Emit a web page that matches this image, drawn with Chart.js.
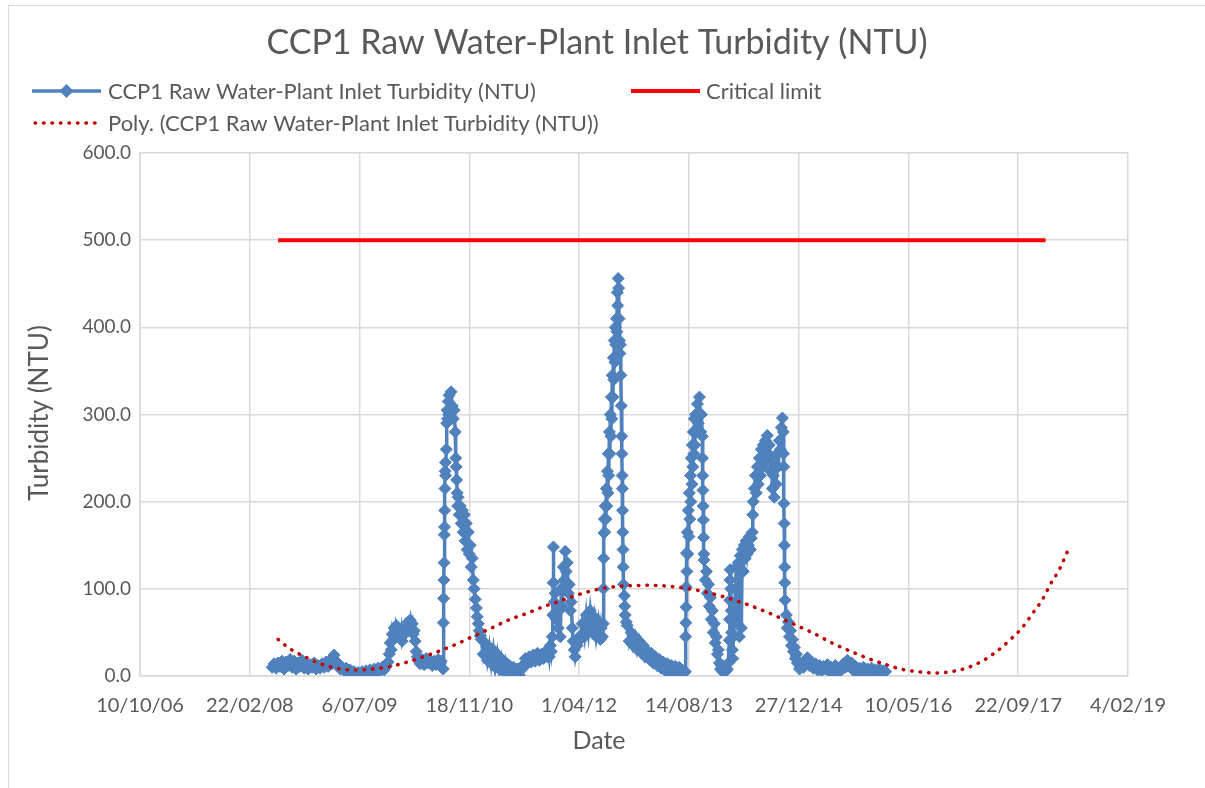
<!DOCTYPE html>
<html>
<head>
<meta charset="utf-8">
<title>CCP1 Raw Water-Plant Inlet Turbidity (NTU)</title>
<script src="https://cdn.jsdelivr.net/npm/chart.js@4.4.1/dist/chart.umd.min.js"></script>
<style>
  html, body { margin: 0; padding: 0; background: #fff; overflow: hidden; }
  #wrap { position: relative; width: 1205px; height: 788px; }
</style>
</head>
<body>
<div id="wrap"><canvas id="turbChart" width="1205" height="788"></canvas></div>
<script>
// dates are Excel serial day numbers (39000 = 10/10/2006)
const rawDates = [
  39602, 39611, 39620, 39629, 39638, 39647, 39656, 39665, 39675, 39684, 39693, 39702,
  39711, 39720, 39729, 39738, 39748, 39757, 39766, 39775, 39784, 39793, 39802, 39811,
  39820, 39830, 39839, 39848, 39857, 39866, 39875, 39884, 39893, 39902, 39912,
  39921, 39930, 39939, 39948, 39957, 39966, 39975, 39985, 39994, 40003, 40012, 40021,
  40030, 40039, 40048, 40057, 40067, 40076, 40085, 40094, 40103, 40112, 40121, 40130,
  40135, 40140, 40144, 40149, 40153, 40158, 40162, 40167, 40176, 40185, 40190, 40194, 40203,
  40208, 40212, 40222, 40226, 40231, 40235, 40240, 40244, 40249, 40253, 40258, 40263,
  40267, 40276, 40285, 40294, 40304, 40313, 40322, 40331, 40340, 40349, 40358, 40367, 40372, 40377,
  40381, 40382, 40383, 40384, 40385, 40386, 40387, 40388, 40389, 40390, 40391, 40392,
  40395, 40397, 40399, 40401, 40404, 40406, 40408, 40413, 40417, 40422, 40427, 40431, 40436,
  40438, 40440, 40442, 40445, 40447, 40449, 40454, 40459, 40463, 40468, 40472, 40477, 40481,
  40486, 40490, 40495, 40500, 40504, 40509, 40513, 40518, 40522, 40527, 40532, 40536, 40541, 40545, 40550,
  40554, 40563, 40572, 40582, 40591, 40600, 40609, 40618, 40627, 40636, 40645, 40655,
  40664, 40673, 40682, 40691, 40700, 40709, 40718, 40728, 40737, 40746, 40755,
  40764, 40773, 40782, 40791, 40800, 40810, 40819, 40828, 40837, 40846, 40855,
  40860, 40864, 40869, 40873, 40878, 40880, 40882, 40883, 40884, 40887, 40891,
  40896, 40900, 40905, 40909, 40914, 40919, 40923, 40928, 40932, 40937, 40941,
  40946, 40951, 40955, 40960, 40964, 40969, 40973, 40978, 40982, 40991, 41000,
  41005, 41014, 41024, 41033, 41042, 41051, 41060, 41069, 41078, 41088, 41097, 41101, 41106,
  41110, 41111, 41112, 41113, 41115, 41117, 41119, 41122, 41124, 41126, 41129, 41131,
  41133, 41135, 41138, 41140, 41142, 41145, 41147, 41149, 41151, 41154, 41156, 41158,
  41160, 41163, 41165, 41167, 41170, 41172, 41174, 41176, 41178, 41180, 41182, 41184,
  41186, 41188, 41190, 41192, 41194, 41195,
  41196, 41197, 41198, 41199, 41200, 41201, 41202, 41206, 41208, 41210, 41215, 41219,
  41228, 41237, 41246, 41256, 41265, 41274, 41283, 41292, 41301, 41310, 41320, 41329, 41338, 41347,
  41356, 41365, 41374, 41383, 41393, 41402, 41411, 41420, 41429, 41438, 41447, 41456, 41465, 41474,
  41484, 41485, 41486, 41487, 41488, 41489, 41491, 41493, 41495, 41497, 41500, 41502, 41504, 41507,
  41509, 41511, 41514, 41516, 41518, 41520, 41523, 41525, 41527, 41530, 41534, 41539, 41543, 41548,
  41552, 41554, 41557, 41561,
  41562, 41563, 41564, 41565, 41566, 41567, 41568, 41569, 41575, 41580, 41584, 41589, 41593, 41598, 41602,
  41607, 41611, 41616, 41620, 41625, 41630, 41634, 41639, 41644, 41648, 41653, 41657, 41662, 41666, 41671,
  41675, 41680, 41684, 41685, 41686, 41687, 41688, 41691, 41693, 41695, 41698, 41700, 41702, 41707,
  41712, 41716, 41721, 41725, 41730, 41734, 41739, 41743, 41748, 41752, 41757, 41761, 41766, 41771,
  41775, 41780, 41784, 41789, 41791, 41793, 41798, 41803, 41807, 41812, 41816, 41821, 41826, 41830,
  41835, 41839, 41844, 41848, 41853, 41857, 41862, 41866, 41871, 41876, 41880, 41885, 41889, 41894,
  41898, 41903, 41907, 41912, 41917, 41921, 41926, 41930, 41931, 41932, 41933, 41934, 41935, 41936,
  41937, 41938, 41944, 41948, 41953, 41958, 41963, 41967, 41972, 41976, 41981, 41985, 41990, 41994,
  42004, 42013, 42022, 42031, 42040, 42049, 42058, 42067, 42077, 42086, 42095, 42104, 42113, 42122, 42131,
  42140, 42149, 42158, 42167, 42177, 42186, 42195, 42204, 42213, 42222, 42231, 42241, 42250, 42259, 42268,
  42277, 42286, 42295, 42305, 42314, 42323, 42332, 42341, 42350, 42359, 42368, 42377, 42386, 42396
];
const rawNTU = [
  10, 14, 9, 15, 11, 17, 8, 16, 12, 19, 10, 17,
  8, 15, 11, 18, 9, 14, 8, 13, 10, 15, 8, 12,
  9, 14, 10, 16, 11, 18, 14, 24, 17, 12, 8,
  10, 6, 9, 4, 7, 3, 5, 2, 4, 1, 5, 2,
  6, 3, 7, 4, 8, 5, 9, 6, 10, 7, 11, 16,
  25, 38, 30, 48, 42, 55, 45, 58, 50, 44, 52, 40, 48,
  56, 50, 62, 58, 64, 55, 60, 48, 52, 40, 28, 22,
  18, 14, 19, 13, 20, 15, 18, 12, 17, 13, 19, 14, 17, 9,
  8, 61, 89, 110, 130, 162, 171, 190, 215, 235, 245, 230,
  260, 290, 305, 295, 315, 300, 322, 305, 326, 310, 295, 305, 280,
  250, 240, 225, 210, 195, 205, 185, 195, 175, 190, 165, 185, 155,
  175, 145, 165, 140, 150, 125, 135, 110, 100, 88, 78, 68, 60, 52, 46,
  42, 25, 38, 18, 33, 14, 30, 10, 25, 8, 20, 5,
  16, 4, 12, 3, 10, 2, 8, 1, 7, 13, 20,
  14, 22, 16, 24, 17, 26, 18, 25, 20, 28, 22,
  30, 22, 35, 28, 45, 70, 107, 148, 107, 85, 95,
  65, 80, 55, 75, 45, 100, 80, 125, 110, 143, 120,
  130, 95, 105, 75, 85, 55, 40, 30, 22, 35, 45,
  42, 60, 45, 70, 50, 75, 55, 68, 45, 62, 42, 55, 45,
  60, 100, 135, 164, 180, 165, 195, 180, 215, 195, 235, 210,
  255, 230, 280, 255, 300, 275, 320, 295, 345, 320, 365, 340,
  385, 360, 400, 380, 410, 395, 440, 425, 456, 445, 410, 385,
  370, 380, 345, 310, 275, 255,
  230, 215, 190, 165, 145, 125, 105, 92, 80, 70, 62, 58,
  40, 50, 35, 45, 30, 40, 27, 35, 22, 29, 19, 26, 15, 22,
  12, 19, 9, 16, 6, 14, 5, 12, 4, 11, 3, 10, 3, 6,
  5, 45, 61, 79, 102, 141, 120, 165, 140, 190, 160, 210, 180, 230,
  200, 250, 220, 265, 240, 280, 255, 295, 265, 300, 280, 312, 290, 320,
  300, 280, 300, 275,
  250, 230, 213, 195, 179, 159, 140, 133, 110, 120, 95, 105, 80, 90, 65,
  75, 50, 60, 38, 45, 25, 30, 15, 8, 12, 5, 10, 4, 9, 6,
  8, 15, 41, 65, 87, 110, 122, 100, 75, 50, 30, 20, 45, 70,
  100, 125, 60, 130, 45, 138, 55, 145, 120, 150, 135, 155, 140, 150,
  160, 145, 158, 165, 185, 200, 215, 230, 210, 240, 220, 250, 230, 260,
  240, 265, 245, 270, 255, 276, 255, 265, 235, 250, 215, 230, 205, 240,
  220, 255, 240, 270, 260, 285, 296, 280, 255, 240, 198, 175, 150, 125,
  107, 87, 70, 55, 62, 45, 52, 35, 42, 28, 33, 20, 25, 15,
  8, 14, 10, 18, 21, 12, 16, 9, 14, 7, 12, 6, 11, 8, 13,
  5, 10, 6, 12, 4, 9, 7, 14, 10, 18, 12, 15, 6, 11, 4,
  9, 5, 10, 3, 8, 4, 9, 3, 7, 4, 8, 3, 6, 5
];

const limitDates = [39629, 43125];
const limitNTU = [500, 500];

// polynomial trendline
const polyDates = [
  39629, 39684, 39761, 39834, 39912, 39989, 40062, 40140, 40217, 40290, 40367, 40436,
  40513, 40609, 40686, 40764, 40832, 40901, 41005, 41097, 41188, 41325, 41475, 41598,
  41744, 41858, 41999, 42068, 42159, 42250, 42318, 42387, 42464, 42541, 42619, 42696,
  42774, 42842, 42906, 42965, 43020, 43066, 43111, 43148, 43189, 43221, 43230
];
const polyNTU = [
  42, 31, 21, 13, 8, 7, 8, 11, 16, 22, 29, 36,
  45, 56, 65, 72, 79, 85, 94, 100, 103, 104, 101, 95,
  84, 73, 57, 49, 37, 27, 20, 14, 8, 5, 3.5, 5,
  10, 18, 29, 42, 56, 72, 88, 106, 123, 141, 146
];

const xMin = 39000, xMax = 43500, xStep = 500;
const yMin = 0, yMax = 600, yStep = 100;

const chartTitle = 'CCP1 Raw Water-Plant Inlet Turbidity (NTU)';
const seriesName = 'CCP1 Raw Water-Plant Inlet Turbidity (NTU)';
const limitName = 'Critical limit';
const polyName = 'Poly. (CCP1 Raw Water-Plant Inlet Turbidity (NTU))';
const xTitle = 'Date';
const yTitle = 'Turbidity (NTU)';

const BLUE = '#4F81BD', RED = '#FF0000', DARKRED = '#C00000';
const TEXT = '#595959', GRID = '#D9D9D9';
const FONT = 'Lato, "Open Sans", sans-serif';

function serialLabel(s) {
  const d = new Date(Date.UTC(1899, 11, 30) + s * 86400000);
  const mm = String(d.getUTCMonth() + 1).padStart(2, '0');
  const yy = String(d.getUTCFullYear() % 100).padStart(2, '0');
  return d.getUTCDate() + '/' + mm + '/' + yy;
}

function pairs(xs, ys) {
  return xs.map((x, i) => ({ x: x, y: ys[i] }));
}

function diamond(ctx, x, y, r) {
  ctx.beginPath();
  ctx.moveTo(x, y - r);
  ctx.lineTo(x + r, y);
  ctx.lineTo(x, y + r);
  ctx.lineTo(x - r, y);
  ctx.closePath();
  ctx.fill();
}

// frame, titles and Excel-like legend
const decorations = {
  id: 'decorations',
  beforeDraw(chart) {
    const ctx = chart.ctx;
    ctx.save();
    ctx.fillStyle = '#fff';
    ctx.fillRect(0, 0, chart.width, chart.height);
    ctx.strokeStyle = GRID;
    ctx.lineWidth = 1;
    ctx.strokeRect(8.5, 5.5, chart.width + 50, chart.height + 50);
    ctx.restore();
  },
  afterDraw(chart) {
    const ctx = chart.ctx;
    ctx.save();
    ctx.fillStyle = TEXT;
    ctx.textBaseline = 'middle';
    ctx.textAlign = 'center';
    ctx.font = '34px ' + FONT;
    ctx.fillText(chartTitle, 597, 43);

    ctx.font = '25px ' + FONT;
    ctx.fillText(xTitle, 599, 741);
    ctx.save();
    ctx.translate(40, 413);
    ctx.rotate(-Math.PI / 2);
    ctx.font = '26px ' + FONT;
    ctx.fillText(yTitle, 0, 0);
    ctx.restore();

    ctx.textAlign = 'left';
    ctx.font = '22px ' + FONT;

    ctx.strokeStyle = BLUE;
    ctx.lineWidth = 3.5;
    ctx.beginPath(); ctx.moveTo(32, 91); ctx.lineTo(101, 91); ctx.stroke();
    ctx.fillStyle = BLUE;
    diamond(ctx, 66.5, 91, 7);
    ctx.fillStyle = TEXT;
    ctx.fillText(seriesName, 108, 92);

    ctx.strokeStyle = RED;
    ctx.lineWidth = 4;
    ctx.beginPath(); ctx.moveTo(631, 91); ctx.lineTo(700, 91); ctx.stroke();
    ctx.fillText(limitName, 706, 92);

    ctx.strokeStyle = DARKRED;
    ctx.lineWidth = 3.5;
    ctx.lineCap = 'round';
    ctx.setLineDash([0.5, 8]);
    ctx.beginPath(); ctx.moveTo(35, 123); ctx.lineTo(100, 123); ctx.stroke();
    ctx.setLineDash([]);
    ctx.fillText(polyName, 108, 124);
    ctx.restore();
  }
};

new Chart(document.getElementById('turbChart'), {
  type: 'line',
  data: {
    datasets: [{
      label: seriesName,
      data: pairs(rawDates, rawNTU),
      borderColor: BLUE,
      backgroundColor: BLUE,
      borderWidth: 3.5,
      pointStyle: 'rectRot',
      pointRadius: 6,
      pointBorderWidth: 1,
      pointBackgroundColor: BLUE,
      pointBorderColor: BLUE,
      tension: 0,
      order: 3
    }, {
      label: limitName,
      data: pairs(limitDates, limitNTU),
      borderColor: RED,
      borderWidth: 4,
      pointRadius: 0,
      order: 2
    }, {
      label: polyName,
      data: pairs(polyDates, polyNTU),
      borderColor: DARKRED,
      borderWidth: 3.5,
      borderDash: [0.5, 8],
      borderCapStyle: 'round',
      cubicInterpolationMode: 'monotone',
      pointRadius: 0,
      order: 1
    }]
  },
  options: {
    responsive: false,
    animation: false,
    devicePixelRatio: 1,
    layout: { padding: { top: 153, right: 77, bottom: 0, left: 0 } },
    plugins: {
      legend: { display: false },
      title: { display: false },
      tooltip: { enabled: false }
    },
    scales: {
      x: {
        type: 'linear',
        min: xMin,
        max: xMax,
        afterFit(scale) { scale.height = 112; },
        grid: { color: GRID, lineWidth: 1.5, drawTicks: false },
        border: { color: GRID, width: 1.5 },
        ticks: {
          stepSize: xStep,
          padding: 18,
          color: TEXT,
          autoSkip: false,
          maxRotation: 0,
          font: { family: FONT, size: 20 },
          callback: v => serialLabel(v)
        }
      },
      y: {
        min: yMin,
        max: yMax,
        afterFit(scale) { scale.width = 140; },
        grid: { color: GRID, lineWidth: 1.5, drawTicks: false },
        border: { color: GRID, width: 1.5 },
        ticks: {
          stepSize: yStep,
          padding: 9,
          color: TEXT,
          font: { family: FONT, size: 19 },
          callback: v => v.toFixed(1)
        }
      }
    }
  },
  plugins: [decorations]
});
</script>
</body>
</html>
